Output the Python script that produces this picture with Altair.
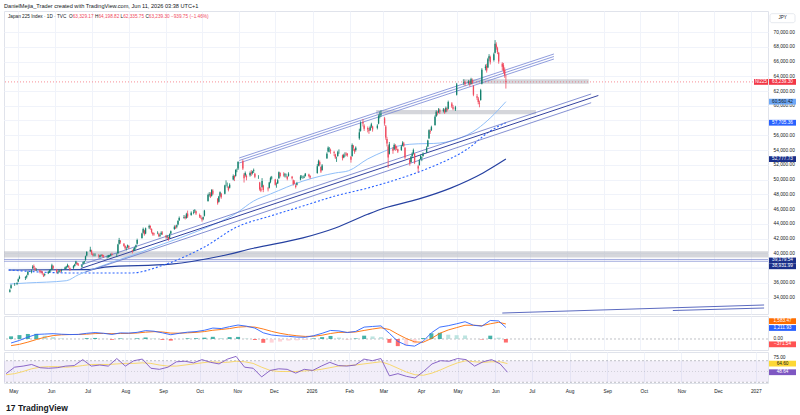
import altair as alt
import pandas as pd

# ------------------------------------------------------------------ layout
W = 764
H_MAIN, H_MACD, H_RSI = 303, 34, 31
FONT = "Liberation Sans"
INK = "#131722"
GRID = "#f0f3fa"
UP, DOWN = "#13806d", "#f04a5e"

# ------------------------------------------------------------------ candles
# Japan 225 daily sessions, prices in hundreds of index points
OPEN = [
    348, 353, 358, 359,
    362, 366, 367, 368, 371, 375, 380, 383, 380, 378, 377, 376, 375, 371, 371, 373, 375, 377, 378, 383,
    378, 374, 375, 377, 376, 379, 381, 382, 383, 380, 380, 383, 386, 387, 385, 382, 386, 388, 391, 397, 403,
    404, 399, 398, 398, 397, 395, 397, 398, 397, 395, 395, 396, 397, 399, 398, 400, 413, 417, 413, 410, 407, 409,
    410, 404, 404, 405, 409, 413, 421, 428, 431, 427, 435, 437, 433, 428, 427, 428, 426, 424, 426, 428,
    424, 422, 422, 421, 427, 433, 436, 436, 439, 445, 448, 449, 448, 454, 452, 455, 457, 457, 452, 450,
    448, 447, 451, 471, 479, 481, 478, 485, 474, 470, 478, 481, 481, 493, 493, 490, 489, 500, 505, 505, 513, 515,
    525, 507, 506, 505, 506, 510, 509, 512, 508, 503, 496, 488, 490, 492, 488, 489, 497, 502,
    500, 493, 495, 502, 509, 507, 506, 506, 504, 505, 504, 499, 496, 492, 493, 500, 504, 503, 503, 505, 507, 505,
    509, 519, 524, 517, 513, 529, 538, 541, 540, 537, 534, 528, 532, 538, 533, 530, 534, 535, 535,
    531, 532, 546, 541, 540, 556, 566, 578, 573, 570, 567, 567, 572, 572, 570, 576, 587, 588,
    583, 572, 555, 545, 535, 542, 541, 546, 544, 541, 540, 546, 549, 543, 527, 524, 532, 536, 535, 518, 520,
    528, 529, 532, 537, 545, 556, 566, 567, 574, 586, 591, 591, 594, 593, 594, 592, 596, 596, 603, 598, 595,
    615, 631, 632, 631, 632, 630, 635, 627, 613, 610, 604, 608, 630, 651, 654, 652, 664, 666,
    662, 672, 683, 678, 672, 657, 655, 649, 633.2917,
]
HIGH = [
    352, 358, 360, 361,
    366, 370, 369, 371, 376, 378, 384, 385, 381, 380, 378, 377, 376, 373, 373, 376, 378, 379, 386, 384,
    379, 376, 378, 378, 379, 382, 383, 386, 384, 381, 384, 386, 390, 388, 387, 385, 389, 390, 397, 403, 409,
    405, 401, 400, 400, 399, 398, 399, 399, 398, 397, 398, 398, 400, 401, 400, 413, 421, 418, 414, 411, 409, 412,
    411, 405, 407, 409, 412, 420, 428, 435, 432, 435, 439, 438, 434, 429, 428, 430, 428, 427, 430, 430,
    425, 425, 423, 427, 431, 438, 438, 439, 445, 450, 452, 451, 455, 458, 457, 459, 460, 458, 454, 452,
    449, 450, 459, 481, 483, 483, 487, 487, 475, 478, 484, 482, 493, 499, 496, 491, 495, 507, 506, 514, 515, 525,
    527, 509, 511, 507, 511, 513, 512, 515, 509, 506, 497, 490, 502, 493, 490, 497, 504, 505,
    501, 496, 501, 511, 510, 510, 509, 508, 505, 510, 505, 500, 499, 494, 497, 506, 506, 505, 506, 509, 508, 506,
    521, 527, 526, 518, 521, 537, 545, 544, 542, 539, 535, 531, 539, 541, 534, 535, 537, 537, 536,
    532, 549, 547, 542, 545, 569, 579, 582, 575, 572, 570, 573, 577, 573, 575, 588, 592, 594,
    585, 574, 558, 547, 551, 544, 549, 548, 546, 542, 547, 552, 551, 544, 529, 532, 537, 542, 536, 520, 528,
    534, 531, 537, 545, 554, 568, 568, 573, 587, 594, 593, 597, 596, 597, 596, 599, 598, 607, 605, 601, 600,
    631, 636, 634, 635, 634, 638, 637, 628, 616, 612, 607, 623, 651, 656, 657, 665, 670, 668,
    672, 689, 686, 680, 673, 659, 658, 652, 641.9882,
]
LOW = [
    347, 352, 356, 357,
    361, 365, 364, 366, 370, 373, 379, 379, 376, 376, 373, 373, 371, 368, 369, 372, 374, 375, 378, 378,
    373, 372, 374, 374, 375, 378, 379, 381, 380, 376, 379, 382, 385, 384, 383, 381, 385, 386, 390, 396, 402,
    398, 396, 396, 396, 394, 394, 396, 395, 394, 393, 394, 395, 396, 397, 395, 400, 412, 413, 409, 405, 404, 407,
    406, 400, 403, 404, 407, 412, 420, 427, 424, 426, 433, 432, 427, 424, 424, 426, 422, 422, 425, 425,
    420, 420, 417, 420, 426, 432, 433, 434, 438, 444, 447, 446, 447, 448, 451, 453, 455, 452, 448, 447,
    443, 445, 450, 470, 477, 475, 477, 479, 466, 469, 476, 474, 480, 491, 489, 484, 488, 499, 498, 504, 510, 513,
    513, 496, 504, 499, 504, 505, 507, 509, 502, 501, 485, 483, 489, 483, 484, 488, 495, 500,
    492, 489, 494, 501, 503, 504, 503, 503, 499, 504, 500, 492, 494, 488, 492, 499, 502, 501, 502, 504, 503, 501,
    508, 518, 518, 509, 512, 528, 537, 537, 535, 532, 528, 524, 531, 535, 526, 529, 531, 532, 531,
    523, 531, 539, 535, 538, 554, 565, 572, 566, 564, 562, 566, 570, 565, 568, 575, 583, 585,
    573, 554, 545, 516, 534, 535, 540, 539, 540, 536, 539, 545, 544, 528, 519, 523, 530, 534, 521, 510, 519,
    527, 525, 531, 536, 544, 555, 562, 566, 573, 585, 587, 590, 589, 591, 589, 591, 592, 595, 597, 594, 593,
    614, 628, 627, 629, 626, 629, 629, 613, 608, 602, 598, 607, 629, 648, 645, 651, 661, 656,
    660, 671, 676, 670, 657, 648, 644, 638, 623.3575,
]
CLOSE = [
    350, 357, 358, 360,
    365, 368, 368, 369, 375, 376, 382, 381, 378, 378, 375, 375, 373, 370, 372, 375, 377, 377, 384, 380,
    375, 374, 377, 376, 377, 381, 382, 384, 382, 378, 383, 385, 389, 385, 384, 384, 388, 389, 396, 402, 405,
    400, 398, 398, 398, 396, 397, 398, 396, 396, 395, 397, 397, 399, 398, 398, 412, 418, 415, 410, 407, 407, 411,
    408, 403, 405, 408, 411, 418, 427, 433, 426, 434, 437, 435, 429, 426, 426, 428, 424, 425, 428, 427,
    422, 423, 419, 426, 430, 436, 435, 438, 444, 448, 449, 448, 453, 450, 455, 456, 458, 454, 450, 449,
    446, 449, 458, 479, 480, 477, 486, 481, 468, 477, 483, 476, 492, 493, 493, 486, 493, 505, 502, 513, 513, 524,
    515, 502, 509, 503, 509, 508, 511, 513, 504, 503, 487, 485, 498, 486, 487, 496, 502, 503,
    493, 493, 499, 510, 505, 506, 507, 506, 501, 508, 502, 494, 495, 490, 495, 504, 504, 503, 504, 508, 505, 503,
    518, 525, 520, 511, 519, 535, 543, 541, 539, 536, 530, 528, 537, 538, 529, 533, 534, 534, 533,
    527, 547, 543, 538, 543, 564, 577, 576, 569, 568, 566, 571, 575, 568, 573, 586, 588, 589,
    576, 557, 549, 530, 548, 539, 547, 542, 543, 538, 545, 550, 546, 530, 522, 531, 535, 540, 523, 515, 526,
    532, 530, 535, 543, 553, 567, 565, 571, 585, 592, 590, 595, 592, 595, 591, 597, 594, 605, 599, 596, 598,
    629, 632, 630, 633, 629, 636, 631, 615, 611, 605, 603, 621, 649, 653, 648, 663, 667, 659,
    670, 684, 679, 673, 660, 653, 647, 641.7905, 632.393,
]
# Tokyo exchange closures on weekdays
HOLIDAYS = [
    "2025-04-29", "2025-05-05", "2025-05-06", "2025-07-21", "2025-08-11", "2025-09-15",
    "2025-09-23", "2025-10-13", "2025-11-03", "2025-11-24", "2025-12-31",
    "2026-01-01", "2026-01-02", "2026-01-12", "2026-02-11", "2026-02-23", "2026-03-20",
    "2026-04-29", "2026-05-04", "2026-05-05", "2026-05-06",
]

# ------------------------------------------------------------ moving averages
SMA50_DATES = ["2025-04-24", "2025-05-08", "2025-06-10", "2025-06-20", "2025-07-06", "2025-08-03",
               "2025-08-30", "2025-09-27", "2025-10-30", "2025-11-13", "2025-11-27", "2025-12-24",
               "2026-01-20", "2026-01-31", "2026-02-16", "2026-03-02", "2026-03-16", "2026-03-30",
               "2026-04-12", "2026-05-02", "2026-05-18", "2026-05-29", "2026-06-11"]
SMA50_VALUES = [35850, 35990, 36300, 37100, 38100, 39700, 41300, 43000, 45500, 47100, 48050, 49800,
                50900, 51200, 52800, 53850, 54650, 54850, 54900, 55500, 56850, 58350, 60560.42]
SMA100_DATES = ["2025-04-23", "2025-06-15", "2025-08-03", "2025-08-30", "2025-10-03", "2025-10-30",
                "2025-11-27", "2025-12-24", "2026-01-20", "2026-02-16", "2026-03-16", "2026-04-12",
                "2026-05-10", "2026-05-29", "2026-06-11"]
SMA100_VALUES = [37750, 37350, 37350, 38430, 40870, 43580, 45070, 46420, 47780, 48860, 50220, 51840,
                 54150, 56590, 57705.36]
SMA200_DATES = ["2025-04-23", "2025-06-28", "2025-07-12", "2025-09-05", "2025-10-17", "2025-11-13",
                "2025-12-24", "2026-01-20", "2026-02-16", "2026-03-02", "2026-03-30", "2026-04-26",
                "2026-05-23", "2026-06-11"]
SMA200_VALUES = [37750, 37800, 38150, 38550, 39650, 40700, 42100, 43450, 45300, 46150, 47350, 48850,
                 50900, 52777.73]

# ------------------------------------------------------- weekly oscillators
MACD = [-420, -150, 200, 480, 520, 560, 500, 470, 480, 600, 680, 600, 480, 640, 620, 700, 880, 820,
        650, 450, 600, 720, 780, 920, 1150, 1100, 1300, 1470, 1350, 1150, 650, 420, 330, 280, 200, 180,
        350, 600, 900, 850, 680, 800, 1250, 1320, 1380, 600, -250, -650, -750, -250, 650, 1250, 1400,
        1600, 1820, 1450, 1350, 1950, 1900, 1211.93]
SIGNAL = [-700, -560, -330, -60, 180, 360, 440, 470, 480, 510, 570, 590, 560, 580, 590, 630, 720, 770,
          740, 620, 610, 650, 700, 780, 920, 1000, 1100, 1250, 1300, 1250, 1050, 800, 600, 450, 340, 270,
          290, 400, 580, 700, 700, 740, 900, 1050, 1180, 1000, 500, 50, -300, -350, 50, 600, 950,
          1200, 1450, 1450, 1400, 1600, 1760, 1583.47]
RSI = [46, 58, 60, 63, 57, 56, 57, 60, 61, 72, 60, 62, 60, 74, 60, 70, 73, 56, 54, 58, 68, 69, 66, 72,
       67, 64, 73, 78, 58, 56, 40, 52, 55, 54, 47, 54, 52, 60, 67, 61, 60, 62, 73, 70, 74, 42, 46, 41,
       38, 50, 64, 70, 69, 74, 72, 60, 68, 72, 64, 48.64]
RSI_MA = [44, 46, 50, 55, 58, 59, 59, 58, 59, 61, 63, 63, 63, 64, 65, 65, 66, 65, 62, 60, 60, 62, 64, 66,
          68, 67, 67, 69, 68, 65, 58, 52, 50, 50, 50, 51, 52, 54, 57, 60, 61, 62, 64, 66, 68, 63, 56, 49,
          44, 43, 47, 53, 60, 66, 70, 68, 67, 68, 68, 64.60]

# ---------------------------------------------------------------- drawings
UPPER_CHANNEL_DATES = [["2025-11-01", "2026-07-21"]] * 3
UPPER_CHANNEL_LEVELS = [[52930, 67020], [52590, 66680], [52250, 66340]]
LOWER_CHANNEL_DATES = [["2025-06-22", "2026-08-21"], ["2025-06-22", "2026-08-27"], ["2025-06-26", "2026-08-21"]]
LOWER_CHANNEL_LEVELS = [[38430, 61600], [37950, 61400], [37480, 60420]]
PROJECTION_DATES = [["2026-06-08", "2027-01-12"], ["2026-10-28", "2027-01-12"]]
PROJECTION_LEVELS = [[31920, 33010], [32260, 32600]]
ZONE_START = ["2026-05-06", "2026-02-23", "2025-04-01"]
ZONE_END = ["2026-08-19", "2026-07-06", "2027-02-01"]
ZONE_LOW = [63000, 58850, 39450]
ZONE_HIGH = [63590, 59430, 40280]
LEVELS = [39179.54, 38931.99]

# ------------------------------------------------------------------ frames
days = pd.bdate_range("2025-04-24", "2026-06-11")
days = days[~days.isin(pd.to_datetime(HOLIDAYS))]
n = len(CLOSE)
candles = pd.DataFrame({
    "date": days[-n:],
    "open": [v * 100 for v in OPEN],
    "high": [v * 100 for v in HIGH],
    "low": [v * 100 for v in LOW],
    "close": [v * 100 for v in CLOSE],
})
candles["high"] = candles[["high", "open", "close"]].max(axis=1)
candles["low"] = candles[["low", "open", "close"]].min(axis=1)

last = candles.iloc[-1]
prev_close = candles["close"].iloc[-2]
chg = last["close"] - prev_close
pct = chg / prev_close * 100


def minus(s):
    return s.replace("-", "\u2212")


def series(dates, values):
    return pd.DataFrame({"date": pd.to_datetime(dates), "v": values})


def segments(dates, levels):
    rows = []
    for i, (ds, vs) in enumerate(zip(dates, levels)):
        for d, v in zip(ds, vs):
            rows.append({"date": pd.Timestamp(d), "v": v, "id": i})
    return pd.DataFrame(rows)


sma50 = series(SMA50_DATES, SMA50_VALUES)
sma100 = series(SMA100_DATES, SMA100_VALUES)
sma200 = series(SMA200_DATES, SMA200_VALUES)
upper = segments(UPPER_CHANNEL_DATES, UPPER_CHANNEL_LEVELS)
lower = segments(LOWER_CHANNEL_DATES, LOWER_CHANNEL_LEVELS)
proj = segments(PROJECTION_DATES, PROJECTION_LEVELS)
zones = pd.DataFrame({"date": pd.to_datetime(ZONE_START), "date2": pd.to_datetime(ZONE_END),
                      "lo": ZONE_LOW, "hi": ZONE_HIGH})
levels = pd.DataFrame({"v": LEVELS})
price_line = pd.DataFrame({"v": [last["close"]]})

weeks = pd.date_range("2025-04-25", periods=len(MACD) - 1, freq="W-FRI").append(
    pd.DatetimeIndex([days[-1]]))
osc = pd.DataFrame({"date": weeks, "macd": MACD, "signal": SIGNAL, "rsi": RSI, "rsi_ma": RSI_MA})
osc["hist"] = osc["macd"] - osc["signal"]
prev_hist = osc["hist"].shift(1).fillna(0)
osc["hcolor"] = [
    ("#26a69a" if h >= p else "#b2dfdb") if h >= 0 else ("#ff5252" if h < p else "#ffcdd2")
    for h, p in zip(osc["hist"], prev_hist)
]

# ------------------------------------------------------------------ scales
X_DOMAIN = [alt.DateTime(year=2025, month=4, date=23, hours=7),
            alt.DateTime(year=2027, month=1, date=11, hours=2)]
MONTH_TICKS = [alt.DateTime(year=2025 + (m - 1) // 12, month=(m - 1) % 12 + 1, date=1)
               for m in range(5, 26)]
XS = alt.Scale(domain=X_DOMAIN)
AX_X = alt.Axis(values=MONTH_TICKS, grid=True, gridColor=GRID, labels=False, ticks=False,
                domain=False, title=None)
AX_X_BOTTOM = alt.Axis(values=MONTH_TICKS, grid=True, gridColor=GRID, ticks=False, tickSize=0,
                       domain=False, title=None, labelPadding=5, labelOverlap=False, labelFlush=False,
                       labelExpr="month(datum.value) == 0 ? timeFormat(datum.value, '%Y') : timeFormat(datum.value, '%b')")

Y_MAIN = [31789, 72846]
Y_MACD = [-1158, 2421]
Y_RSI = [28.7, 86.1]
# price scale labels; the two levels sitting under value tags are left out
PRICE_TICKS = [v for v in range(34000, 70001, 2000) if v not in (38000, 58000)]
AX_MAIN = alt.Axis(orient="right", values=PRICE_TICKS, format=",.2f", grid=True,
                   gridColor=GRID, domain=False, ticks=False, tickSize=0, labelPadding=5, title=None)
GRID_MAIN = pd.DataFrame({"v": [38000, 58000]})
AX_MACD = alt.Axis(orient="right", values=[0], format=",.2f", grid=False, domain=False, ticks=False,
                   tickSize=0, labelPadding=5, title=None)
AX_RSI = alt.Axis(orient="right", values=[75], format=",.2f", grid=False, domain=False, ticks=False,
                  tickSize=0, labelPadding=5, title=None)


def xe(axis=AX_X, field="date:T"):
    return alt.X(field, scale=XS, axis=axis)


def ye(field, domain, axis):
    return alt.Y(field, scale=alt.Scale(domain=domain, zero=False, nice=False), axis=axis)


def price_tags(values, fills, inks, shifts, domain, height, axis, xa=W + 1, xb=W + 28):
    ppu = height / (domain[1] - domain[0])
    rows = []
    for v, f, k, s in zip(values, fills, inks, shifts):
        c = v - s / ppu
        rows.append({"c": c, "lo": c - 2.9 / ppu, "hi": c + 2.9 / ppu, "fill": f, "ink": k,
                     "label": minus(f"{v:,.2f}")})
    df = pd.DataFrame(rows)
    box = alt.Chart(df).mark_rect().encode(
        x=alt.value(xa), x2=alt.value(xb), y=ye("lo:Q", domain, axis), y2="hi:Q",
        color=alt.Color("fill:N", scale=None))
    txt = alt.Chart(df).mark_text(font=FONT, fontSize=4.7, align="center", baseline="middle").encode(
        x=alt.value((xa + xb) / 2), y=ye("c:Q", domain, axis), text="label:N",
        color=alt.Color("ink:N", scale=None))
    return box + txt


one = pd.DataFrame({"k": [0]})

# --------------------------------------------------------------- main pane
ym = lambda f: ye(f, Y_MAIN, AX_MAIN)

extra_grid = alt.Chart(GRID_MAIN).mark_rule(color=GRID, strokeWidth=1).encode(y=ym("v:Q"))
zone_layer = alt.Chart(zones).mark_rect(color="#b2b5be", opacity=0.55, clip=True).encode(
    x=xe(), x2="date2:T", y=ym("lo:Q"), y2="hi:Q")
level_layer = alt.Chart(levels).mark_rule(color="#8c97d6", strokeWidth=0.8).encode(y=ym("v:Q"))
ma200_layer = alt.Chart(sma200).mark_line(color="#2540a0", strokeWidth=1.2, interpolate="monotone").encode(
    x=xe(), y=ym("v:Q"))
ma100_layer = alt.Chart(sma100).mark_line(color="#2962ff", strokeWidth=1.1, strokeDash=[2, 2],
                                          interpolate="monotone").encode(x=xe(), y=ym("v:Q"))
ma50_layer = alt.Chart(sma50).mark_line(color="#90bff9", strokeWidth=1, interpolate="monotone").encode(
    x=xe(), y=ym("v:Q"))
upper_layer = alt.Chart(upper).mark_line(color="#7484d4", strokeWidth=0.8).encode(
    x=xe(), y=ym("v:Q"), detail="id:N")
lower_outer = alt.Chart(lower[lower["id"] != 1]).mark_line(color="#6573c6", strokeWidth=0.8).encode(
    x=xe(), y=ym("v:Q"), detail="id:N")
lower_mid = alt.Chart(lower[lower["id"] == 1]).mark_line(color="#34429e", strokeWidth=1.0).encode(
    x=xe(), y=ym("v:Q"))
proj_layer = alt.Chart(proj).mark_line(color="#5c6bc0", strokeWidth=1.0, clip=True).encode(
    x=xe(), y=ym("v:Q"), detail="id:N")
price_rule = alt.Chart(price_line).mark_rule(color="#f23645", strokeWidth=0.7, strokeDash=[1, 2],
                                            opacity=0.8).encode(y=ym("v:Q"))

candle_color = alt.condition("datum.close >= datum.open", alt.value(UP), alt.value(DOWN))
wicks = alt.Chart(candles).mark_rule(strokeWidth=0.8).encode(
    x=xe(), y=ym("low:Q"), y2="high:Q", color=candle_color)
bodies = alt.Chart(candles).mark_bar(size=1.3).encode(
    x=xe(), y=ym("open:Q"), y2="close:Q", color=candle_color)

anchor = alt.Chart(one).mark_rule(opacity=0).encode(
    x=alt.value(0), x2=alt.value(1), y=alt.value(-10), y2=alt.value(-10))
header = alt.Chart(one).mark_text(font=FONT, fontSize=5.6, align="left", baseline="middle",
                                  color=INK).encode(
    x=alt.value(0), y=alt.value(-5.5),
    text=alt.value("DanielMejia_Trader created with TradingView.com, Jun 11, 2026 03:38 UTC+1"))

legend_parts = [
    ("Japan 225 Index \u00b7 1D \u00b7 TVC", 4, INK),
    ("O", 65, INK), (f"{last['open']:,.2f}", 68.7, DOWN),
    ("H", 91, INK), (f"{last['high']:,.2f}", 94.4, DOWN),
    ("L", 116.6, INK), (f"{last['low']:,.2f}", 119.2, DOWN),
    ("C", 141.4, INK), (f"{last['close']:,.2f}", 144.8, DOWN),
    (minus(f"{chg:,.2f} ({pct:.2f}%)"), 167, DOWN),
]
legend = alt.layer(*[
    alt.Chart(one).mark_text(font=FONT, fontSize=4.7, align="left", baseline="middle", color=c).encode(
        x=alt.value(px), y=alt.value(6), text=alt.value(t))
    for t, px, c in legend_parts
])

jpy_box = alt.Chart(one).mark_rect(fill="white", stroke="#e0e3eb", strokeWidth=0.8, cornerRadius=2).encode(
    x=alt.value(766), x2=alt.value(791), y=alt.value(2.7), y2=alt.value(11.7))
jpy_txt = alt.Chart(one).mark_text(font=FONT, fontSize=4.5, color=INK).encode(
    x=alt.value(778.5), y=alt.value(7.2), text=alt.value("JPY"))

main_tags = price_tags(
    [last["close"], SMA50_VALUES[-1], SMA100_VALUES[-1], SMA200_VALUES[-1], LEVELS[0], LEVELS[1]],
    ["#f23645", "#6ea8f7", "#2962ff", "#1a2f8a", "#1a2f8a", "#1a2f8a"],
    ["white", INK, "white", "white", "white", "white"],
    [0, 0, 0, 0, 1, 5], Y_MAIN, H_MAIN, AX_MAIN)
PPU_MAIN = H_MAIN / (Y_MAIN[1] - Y_MAIN[0])
ticker_df = pd.DataFrame({"lo": [last["close"] - 2.9 / PPU_MAIN],
                          "hi": [last["close"] + 2.9 / PPU_MAIN],
                          "c": [last["close"]]})
ticker_box = alt.Chart(ticker_df).mark_rect(color="#f23645").encode(
    x=alt.value(750), x2=alt.value(764), y=ym("lo:Q"), y2="hi:Q")
ticker_txt = alt.Chart(ticker_df).mark_text(font=FONT, fontSize=4.5, color="white").encode(
    x=alt.value(757), y=ym("c:Q"), text=alt.value("NI225"))

main = alt.layer(
    extra_grid, zone_layer, level_layer, ma200_layer, ma100_layer, ma50_layer, upper_layer, lower_outer,
    lower_mid, proj_layer, price_rule, wicks, bodies, anchor, header, legend, jpy_box, jpy_txt,
    main_tags, ticker_box, ticker_txt,
).properties(width=W, height=H_MAIN)

# --------------------------------------------------------------- MACD pane
yd = lambda f: ye(f, Y_MACD, AX_MACD)
zero = alt.Chart(pd.DataFrame({"v": [0]})).mark_rule(color="#9598a1", strokeDash=[2, 2],
                                                     strokeWidth=0.6).encode(y=yd("v:Q"))
hist = alt.Chart(osc).mark_bar(size=4, opacity=0.85).encode(
    x=xe(), y=yd("hist:Q"), y2=alt.datum(0), color=alt.Color("hcolor:N", scale=None))
macd_line = alt.Chart(osc).mark_line(color="#2962ff", strokeWidth=0.9).encode(x=xe(), y=yd("macd:Q"))
signal_line = alt.Chart(osc).mark_line(color="#ff6d00", strokeWidth=0.9).encode(x=xe(), y=yd("signal:Q"))
macd_tags = price_tags(
    [SIGNAL[-1], MACD[-1], MACD[-1] - SIGNAL[-1]],
    ["#ff6d00", "#2962ff", "#ff5252"], ["white", "white", "white"],
    [-2.8, 0.5, 1.8], Y_MACD, H_MACD, AX_MACD)
macd_pane = alt.layer(zero, hist, signal_line, macd_line, macd_tags).properties(width=W, height=H_MACD)

# ---------------------------------------------------------------- RSI pane
yr = lambda f: ye(f, Y_RSI, AX_RSI)
band = alt.Chart(pd.DataFrame({"lo": [30], "hi": [70]})).mark_rect(color="#7e57c2", opacity=0.1).encode(
    x=alt.value(0), x2=alt.value(W), y=yr("lo:Q"), y2="hi:Q")
bounds = alt.Chart(pd.DataFrame({"v": [70, 30]})).mark_rule(
    color="#9598a1", strokeDash=[2, 2], strokeWidth=0.6).encode(y=yr("v:Q"))
mid = alt.Chart(pd.DataFrame({"v": [50]})).mark_rule(
    color="#9598a1", strokeDash=[1, 2], strokeWidth=0.5, opacity=0.7).encode(y=yr("v:Q"))
rsi_ma_line = alt.Chart(osc).mark_line(color="#f7d560", strokeWidth=0.9).encode(
    x=xe(AX_X_BOTTOM), y=yr("rsi_ma:Q"))
rsi_line = alt.Chart(osc).mark_line(color="#7e57c2", strokeWidth=0.9).encode(
    x=xe(AX_X_BOTTOM), y=yr("rsi:Q"))
rsi_tags = price_tags([RSI_MA[-1], RSI[-1]], ["#fdd835", "#7e57c2"], [INK, "white"], [0, 0],
                      Y_RSI, H_RSI, AX_RSI)
logo_mark = alt.Chart(one).mark_text(font=FONT, fontSize=8.5, fontWeight="bold", align="left",
                                     baseline="middle", color=INK).encode(
    x=alt.value(2), y=alt.value(56), text=alt.value("17"))
logo_word = alt.Chart(one).mark_text(font=FONT, fontSize=8.5, fontWeight="bold", align="left",
                                     baseline="middle", color=INK).encode(
    x=alt.value(14), y=alt.value(56), text=alt.value("TradingView"))
rsi_pane = alt.layer(band, bounds, mid, rsi_ma_line, rsi_line, rsi_tags, logo_mark, logo_word).properties(
    width=W, height=H_RSI)

chart = alt.vconcat(main, macd_pane, rsi_pane, spacing=0).properties(
    padding={"left": 3, "top": 0, "right": 0, "bottom": 0}, background="white"
).configure_view(stroke="#e0e3eb").configure_axis(
    labelFont=FONT, labelFontSize=4.8, labelColor=INK)

chart.save("out.html", embed_options={"renderer": "svg", "actions": False})
